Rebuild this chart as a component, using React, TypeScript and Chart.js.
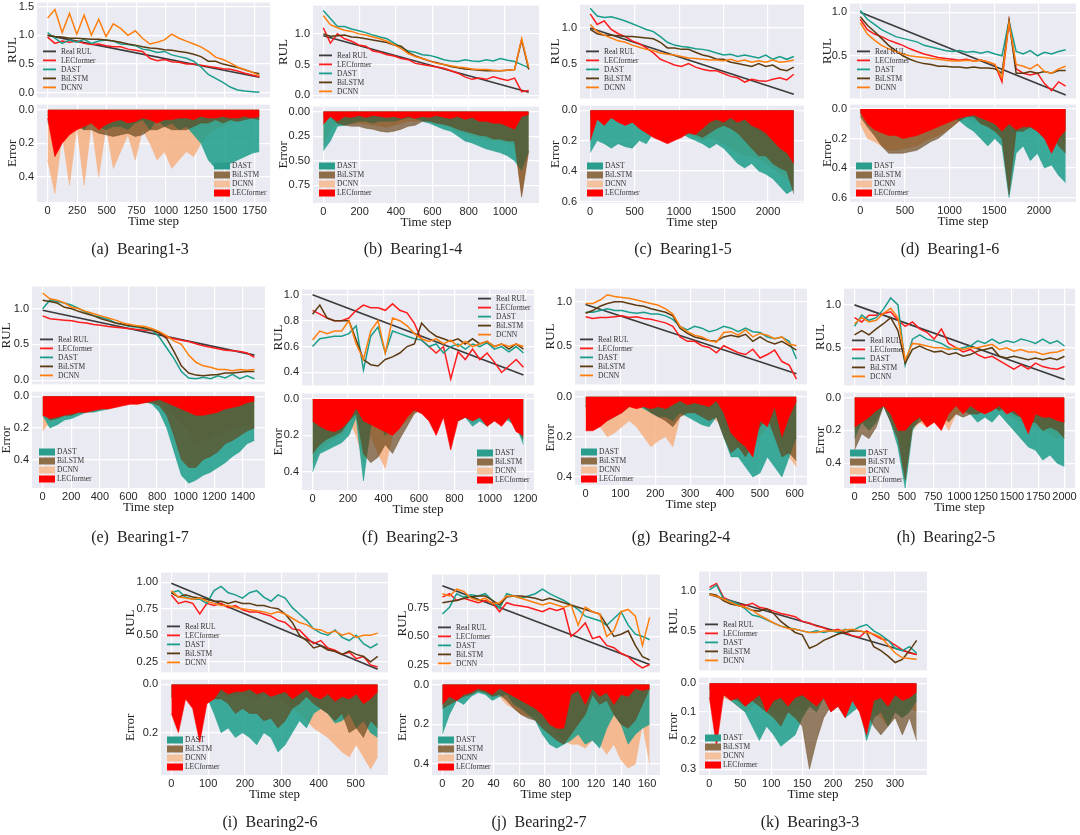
import React, { useEffect, useRef } from "react";
import { Chart, registerables } from "chart.js";

Chart.register(...registerables);

const SANS = "'Liberation Sans', Arial, sans-serif";
const SERIF = "'Liberation Serif', 'Times New Roman', serif";
const TICK_COLOR = "#262626";

// ---- Bearing1-3 ----
const b13Steps = 1790;
const b13XTicks = [0, 250, 500, 750, 1000, 1250, 1500, 1750];
const b13RulTicks = [0, 0.5, 1.0, 1.5];
const b13ErrTicks = [0, 0.2, 0.4];
const b13Real = [1.0, 0.27];
const b13Lec = [0.97, 0.86, 0.9, 0.88, 0.9, 0.86, 0.84, 0.85, 0.82, 0.8, 0.8, 0.76, 0.74, 0.72, 0.6, 0.56, 0.58, 0.54, 0.53, 0.5, 0.5, 0.48, 0.46, 0.44, 0.42, 0.41, 0.38, 0.34, 0.31, 0.28];
const b13Dast = [1.05, 0.95, 0.86, 0.92, 0.88, 0.93, 0.86, 0.9, 0.92, 0.9, 0.85, 0.84, 0.82, 0.76, 0.74, 0.7, 0.72, 0.66, 0.63, 0.6, 0.55, 0.45, 0.32, 0.25, 0.18, 0.1, 0.05, 0.03, 0.02, 0.01];
const b13Bilstm = [1.0, 0.98, 0.97, 0.95, 0.95, 0.94, 0.93, 0.93, 0.92, 0.9, 0.88, 0.85, 0.83, 0.8, 0.78, 0.77, 0.75, 0.74, 0.72, 0.7, 0.67, 0.63, 0.55, 0.55, 0.5, 0.47, 0.44, 0.4, 0.36, 0.33];
const b13Dcnn = [1.3, 1.45, 1.05, 1.38, 1.02, 1.35, 1.0, 1.28, 0.98, 1.2, 1.12, 1.0, 1.08, 0.95, 0.85, 0.88, 0.92, 1.02, 0.95, 0.9, 0.85, 0.8, 0.72, 0.62, 0.58, 0.52, 0.45, 0.4, 0.36, 0.3];
const b13ErrLec = [0.05, 0.28, 0.2, 0.15, 0.12, 0.1, 0.08, 0.12, 0.09, 0.07, 0.06, 0.08, 0.07, 0.05, 0.06, 0.08, 0.06, 0.06, 0.05, 0.05, 0.06, 0.04, 0.05, 0.05, 0.04, 0.05, 0.05, 0.04, 0.05, 0.04];
const b13ErrDast = [0.08, 0.1, 0.1, 0.12, 0.06, 0.12, 0.05, 0.1, 0.12, 0.1, 0.1, 0.12, 0.08, 0.06, 0.12, 0.06, 0.1, 0.08, 0.12, 0.1, 0.15, 0.2, 0.3, 0.35, 0.34, 0.32, 0.3, 0.28, 0.26, 0.25];
const b13ErrBilstm = [0.03, 0.12, 0.1, 0.1, 0.1, 0.12, 0.12, 0.14, 0.15, 0.16, 0.15, 0.14, 0.16, 0.15, 0.12, 0.12, 0.1, 0.12, 0.12, 0.12, 0.1, 0.08, 0.08, 0.06, 0.08, 0.06, 0.07, 0.06, 0.05, 0.06];
const b13ErrDcnn = [0.3, 0.5, 0.15, 0.45, 0.1, 0.45, 0.08, 0.4, 0.1, 0.35, 0.25, 0.15, 0.3, 0.12, 0.2, 0.3, 0.25, 0.35, 0.3, 0.25, 0.28, 0.2, 0.15, 0.12, 0.1, 0.08, 0.06, 0.05, 0.05, 0.04];

// ---- Bearing1-4 ----
const b14Steps = 1130;
const b14XTicks = [0, 200, 400, 600, 800, 1000];
const b14RulTicks = [0, 0.5, 1.0];
const b14ErrTicks = [0, 0.25, 0.5, 0.75];
const b14Real = [0.97, 0.05];
const b14Lec = [1.1, 0.85, 1.0, 0.92, 0.88, 0.82, 0.8, 0.72, 0.7, 0.66, 0.64, 0.6, 0.58, 0.52, 0.5, 0.48, 0.46, 0.44, 0.4, 0.36, 0.3, 0.26, 0.28, 0.26, 0.3, 0.27, 0.24, 0.28, 0.06, 0.08];
const b14Dast = [1.38, 1.25, 1.12, 1.12, 1.08, 1.05, 1.02, 0.98, 0.95, 0.92, 0.85, 0.78, 0.72, 0.7, 0.66, 0.65, 0.62, 0.58, 0.56, 0.55, 0.58, 0.56, 0.55, 0.58, 0.56, 0.6, 0.57, 0.55, 0.5, 0.45];
const b14Bilstm = [1.0, 0.96, 0.97, 0.98, 0.95, 0.94, 0.92, 0.9, 0.88, 0.86, 0.82, 0.8, 0.7, 0.64, 0.6, 0.56, 0.53, 0.5, 0.47, 0.45, 0.43, 0.42, 0.41, 0.4, 0.4, 0.4, 0.41, 0.42, 0.9, 0.42];
const b14Dcnn = [1.3, 1.15, 1.1, 1.06, 1.04, 1.0, 0.98, 0.95, 0.92, 0.88, 0.82, 0.76, 0.68, 0.63, 0.6, 0.56, 0.52, 0.5, 0.48, 0.46, 0.45, 0.43, 0.42, 0.42, 0.41, 0.4, 0.41, 0.42, 0.92, 0.45];
const b14ErrLec = [0.13, 0.05, 0.1, 0.05, 0.06, 0.04, 0.06, 0.04, 0.05, 0.06, 0.05, 0.07, 0.05, 0.07, 0.05, 0.06, 0.04, 0.06, 0.07, 0.05, 0.08, 0.06, 0.1, 0.1, 0.12, 0.12, 0.15, 0.18, 0.05, 0.03];
const b14ErrDast = [0.4, 0.3, 0.15, 0.14, 0.12, 0.1, 0.1, 0.12, 0.1, 0.1, 0.1, 0.08, 0.06, 0.07, 0.1, 0.12, 0.15, 0.18, 0.2, 0.25, 0.3, 0.32, 0.35, 0.38, 0.4, 0.42, 0.45, 0.5, 0.6, 0.4];
const b14ErrBilstm = [0.05, 0.05, 0.12, 0.14, 0.15, 0.15, 0.17, 0.18, 0.2, 0.21, 0.2, 0.18, 0.15, 0.14, 0.1, 0.1, 0.12, 0.13, 0.15, 0.18, 0.2, 0.22, 0.24, 0.25, 0.28, 0.28, 0.3, 0.3, 0.87, 0.4];
const b14ErrDcnn = [0.35, 0.18, 0.13, 0.12, 0.12, 0.12, 0.13, 0.14, 0.15, 0.16, 0.14, 0.12, 0.1, 0.1, 0.08, 0.1, 0.12, 0.14, 0.16, 0.2, 0.22, 0.25, 0.26, 0.28, 0.3, 0.3, 0.32, 0.34, 0.85, 0.4];

// ---- Bearing1-5 ----
const b15Steps = 2290;
const b15XTicks = [0, 500, 1000, 1500, 2000];
const b15RulTicks = [0.5, 1.0];
const b15ErrTicks = [0, 0.2, 0.4, 0.6];
const b15Real = [1.0, 0.07];
const b15Lec = [1.2, 1.05, 1.1, 0.98, 0.92, 0.88, 0.82, 0.78, 0.72, 0.65, 0.56, 0.52, 0.48, 0.46, 0.5, 0.45, 0.42, 0.4, 0.4, 0.36, 0.32, 0.3, 0.24, 0.28, 0.26, 0.25, 0.28, 0.3, 0.27, 0.35];
const b15Dast = [1.28, 1.17, 1.15, 1.16, 1.13, 1.1, 1.06, 1.02, 0.98, 0.95, 0.88, 0.8, 0.76, 0.74, 0.73, 0.71, 0.7, 0.68, 0.65, 0.62, 0.63, 0.6, 0.62, 0.6, 0.58, 0.62, 0.56, 0.6, 0.56, 0.6];
const b15Bilstm = [0.98, 0.92, 0.9, 0.9, 0.89, 0.88, 0.88, 0.87, 0.86, 0.85, 0.8, 0.72, 0.72, 0.7, 0.7, 0.66, 0.62, 0.6, 0.56, 0.56, 0.52, 0.5, 0.48, 0.46, 0.5, 0.46, 0.48, 0.42, 0.4, 0.45];
const b15Dcnn = [1.05, 0.95, 0.9, 0.86, 0.82, 0.8, 0.76, 0.73, 0.7, 0.68, 0.65, 0.63, 0.62, 0.6, 0.58, 0.57, 0.56, 0.55, 0.55, 0.54, 0.56, 0.53, 0.55, 0.52, 0.54, 0.52, 0.55, 0.52, 0.53, 0.55];
const b15ErrLec = [0.2, 0.06, 0.1, 0.05, 0.08, 0.1, 0.08, 0.12, 0.15, 0.18, 0.2, 0.22, 0.2, 0.18, 0.15, 0.16, 0.12, 0.08, 0.06, 0.08, 0.05, 0.08, 0.06, 0.1, 0.12, 0.15, 0.2, 0.25, 0.28, 0.35];
const b15ErrDast = [0.28, 0.2, 0.22, 0.25, 0.22, 0.24, 0.25, 0.2, 0.22, 0.15, 0.12, 0.1, 0.12, 0.15, 0.18, 0.2, 0.22, 0.25, 0.22, 0.25, 0.3, 0.35, 0.38, 0.35, 0.4, 0.42, 0.45, 0.5, 0.55, 0.52];
const b15ErrBilstm = [0.05, 0.05, 0.04, 0.05, 0.06, 0.06, 0.08, 0.1, 0.12, 0.12, 0.1, 0.08, 0.1, 0.12, 0.15, 0.16, 0.18, 0.15, 0.12, 0.1, 0.12, 0.15, 0.2, 0.25, 0.3, 0.3, 0.35, 0.38, 0.4, 0.55];
const b15ErrDcnn = [0.1, 0.05, 0.04, 0.05, 0.06, 0.08, 0.06, 0.06, 0.08, 0.1, 0.12, 0.1, 0.12, 0.14, 0.16, 0.18, 0.2, 0.18, 0.2, 0.22, 0.25, 0.28, 0.3, 0.3, 0.32, 0.35, 0.38, 0.42, 0.45, 0.5];

// ---- Bearing1-6 ----
const b16Steps = 2300;
const b16XTicks = [0, 500, 1000, 1500, 2000];
const b16RulTicks = [0.5, 1.0];
const b16ErrTicks = [0, 0.2, 0.4, 0.6];
const b16Real = [1.0, 0.05];
const b16Lec = [0.92, 0.8, 0.75, 0.72, 0.68, 0.65, 0.62, 0.58, 0.55, 0.52, 0.5, 0.48, 0.47, 0.46, 0.45, 0.46, 0.44, 0.45, 0.43, 0.4, 0.2, 0.9, 0.35, 0.3, 0.28, 0.3, 0.18, 0.1, 0.2, 0.15];
const b16Dast = [1.02, 0.92, 0.86, 0.8, 0.76, 0.72, 0.7, 0.68, 0.66, 0.62, 0.6, 0.58, 0.56, 0.55, 0.56, 0.54, 0.55, 0.53, 0.55, 0.52, 0.5, 0.9, 0.55, 0.52, 0.56, 0.5, 0.54, 0.52, 0.55, 0.57];
const b16Bilstm = [0.95, 0.85, 0.78, 0.7, 0.62, 0.56, 0.5, 0.46, 0.43, 0.41, 0.4, 0.38, 0.38, 0.37, 0.37, 0.36, 0.37, 0.36, 0.36, 0.35, 0.3, 0.9, 0.3, 0.3, 0.32, 0.3, 0.32, 0.3, 0.33, 0.33];
const b16Dcnn = [0.88, 0.75, 0.68, 0.62, 0.58, 0.55, 0.52, 0.5, 0.49, 0.48, 0.47, 0.46, 0.45, 0.44, 0.44, 0.45, 0.44, 0.45, 0.43, 0.4, 0.25, 0.88, 0.4, 0.38, 0.35, 0.4, 0.32, 0.3, 0.35, 0.38];
const b16ErrLec = [0.02, 0.1, 0.14, 0.16, 0.18, 0.18, 0.2, 0.19, 0.18, 0.16, 0.14, 0.12, 0.1, 0.08, 0.06, 0.05, 0.04, 0.06, 0.08, 0.1, 0.15, 0.1, 0.14, 0.12, 0.12, 0.15, 0.2, 0.3, 0.2, 0.14];
const b16ErrDast = [0.03, 0.05, 0.08, 0.1, 0.1, 0.1, 0.1, 0.12, 0.14, 0.12, 0.1, 0.08, 0.06, 0.05, 0.08, 0.12, 0.15, 0.2, 0.25, 0.2, 0.25, 0.6, 0.3, 0.25, 0.35, 0.3, 0.4, 0.38, 0.45, 0.5];
const b16ErrBilstm = [0.05, 0.12, 0.18, 0.25, 0.3, 0.3, 0.3, 0.29, 0.28, 0.25, 0.22, 0.2, 0.16, 0.12, 0.08, 0.05, 0.05, 0.1, 0.12, 0.15, 0.2, 0.58, 0.15, 0.15, 0.12, 0.15, 0.2, 0.15, 0.25, 0.3];
const b16ErrDcnn = [0.1, 0.2, 0.22, 0.25, 0.28, 0.28, 0.27, 0.26, 0.25, 0.22, 0.2, 0.18, 0.15, 0.12, 0.08, 0.06, 0.08, 0.1, 0.12, 0.15, 0.2, 0.55, 0.15, 0.12, 0.15, 0.1, 0.15, 0.2, 0.18, 0.25];

// ---- Bearing1-7 ----
const b17Steps = 1480;
const b17XTicks = [0, 200, 400, 600, 800, 1000, 1200, 1400];
const b17RulTicks = [0, 0.5, 1.0];
const b17ErrTicks = [0, 0.2, 0.4];
const b17Real = [0.98, 0.35];
const b17Lec = [0.9, 0.86, 0.85, 0.84, 0.83, 0.81, 0.8, 0.78, 0.77, 0.75, 0.74, 0.73, 0.72, 0.71, 0.7, 0.69, 0.66, 0.6, 0.58, 0.56, 0.54, 0.51, 0.48, 0.46, 0.44, 0.42, 0.41, 0.4, 0.38, 0.32];
const b17Dast = [1.0, 1.12, 1.1, 1.08, 1.05, 1.0, 0.95, 0.9, 0.88, 0.85, 0.8, 0.78, 0.75, 0.74, 0.72, 0.7, 0.6, 0.45, 0.3, 0.12, 0.03, 0.02, 0.04, 0.02, 0.06, 0.03, 0.08, 0.02, 0.06, 0.02];
const b17Bilstm = [1.12, 1.1, 1.08, 1.02, 1.0, 0.96, 0.93, 0.9, 0.86, 0.83, 0.8, 0.78, 0.76, 0.75, 0.73, 0.7, 0.66, 0.58, 0.4, 0.2, 0.1, 0.07, 0.06, 0.07, 0.08, 0.1, 0.1, 0.11, 0.12, 0.12];
const b17Dcnn = [1.22, 1.14, 1.12, 1.08, 1.02, 1.0, 0.96, 0.93, 0.9, 0.87, 0.84, 0.8, 0.78, 0.76, 0.75, 0.72, 0.68, 0.62, 0.55, 0.5, 0.35, 0.25, 0.2, 0.18, 0.15, 0.15, 0.13, 0.15, 0.14, 0.15];
const b17ErrLec = [0.12, 0.14, 0.13, 0.12, 0.11, 0.1, 0.1, 0.09, 0.08, 0.08, 0.07, 0.06, 0.05, 0.05, 0.04, 0.03, 0.02, 0.04, 0.06, 0.08, 0.1, 0.12, 0.12, 0.11, 0.1, 0.08, 0.07, 0.06, 0.04, 0.03];
const b17ErrDast = [0.12, 0.2, 0.18, 0.15, 0.14, 0.12, 0.1, 0.1, 0.09, 0.08, 0.06, 0.05, 0.04, 0.04, 0.03, 0.05, 0.1, 0.2, 0.35, 0.5, 0.55, 0.53, 0.5, 0.48, 0.45, 0.42, 0.38, 0.35, 0.3, 0.28];
const b17ErrBilstm = [0.1, 0.15, 0.14, 0.12, 0.12, 0.1, 0.1, 0.09, 0.08, 0.07, 0.06, 0.05, 0.04, 0.04, 0.04, 0.04, 0.06, 0.12, 0.25, 0.4, 0.45, 0.45, 0.4, 0.38, 0.35, 0.3, 0.28, 0.25, 0.22, 0.2];
const b17ErrDcnn = [0.22, 0.16, 0.14, 0.13, 0.12, 0.11, 0.1, 0.09, 0.08, 0.07, 0.06, 0.05, 0.04, 0.05, 0.04, 0.03, 0.04, 0.08, 0.12, 0.18, 0.22, 0.3, 0.28, 0.26, 0.24, 0.22, 0.2, 0.2, 0.18, 0.2];

// ---- Bearing2-3 ----
const b23Steps = 1190;
const b23XTicks = [0, 200, 400, 600, 800, 1000, 1200];
const b23RulTicks = [0.4, 0.6, 0.8, 1.0];
const b23ErrTicks = [0, 0.2, 0.4];
const b23Real = [1.0, 0.38];
const b23Lec = [0.88, 0.85, 0.82, 0.8, 0.8, 0.82, 0.88, 0.92, 0.9, 0.9, 0.88, 0.93, 0.88, 0.86, 0.78, 0.65, 0.6, 0.55, 0.6, 0.35, 0.56, 0.5, 0.58, 0.5, 0.55, 0.48, 0.4, 0.45, 0.5, 0.44];
const b23Dast = [0.6, 0.66, 0.67, 0.68, 0.68, 0.7, 0.76, 0.42, 0.68, 0.75, 0.55, 0.72, 0.7, 0.68, 0.66, 0.65, 0.6, 0.62, 0.55, 0.6, 0.62, 0.58, 0.62, 0.6, 0.63, 0.58, 0.6, 0.56, 0.6, 0.55];
const b23Bilstm = [0.85, 0.92, 0.82, 0.8, 0.8, 0.8, 0.65, 0.5, 0.46, 0.45, 0.5, 0.52, 0.55, 0.6, 0.62, 0.78, 0.72, 0.68, 0.66, 0.64, 0.66, 0.62, 0.66, 0.62, 0.64, 0.6, 0.62, 0.58, 0.62, 0.58];
const b23Dcnn = [0.65, 0.72, 0.7, 0.72, 0.72, 0.8, 0.62, 0.5, 0.72, 0.8, 0.55, 0.82, 0.8, 0.76, 0.7, 0.66, 0.64, 0.66, 0.62, 0.65, 0.6, 0.64, 0.6, 0.62, 0.64, 0.6, 0.62, 0.6, 0.62, 0.6];
const b23ErrLec = [0.12, 0.15, 0.17, 0.18, 0.16, 0.12, 0.05, 0.12, 0.14, 0.16, 0.18, 0.2, 0.16, 0.1, 0.06, 0.08, 0.12, 0.2, 0.1, 0.28, 0.12, 0.1, 0.12, 0.1, 0.15, 0.12, 0.15, 0.1, 0.18, 0.2];
const b23ErrDast = [0.4, 0.3, 0.28, 0.26, 0.24, 0.2, 0.1, 0.45, 0.15, 0.12, 0.2, 0.15, 0.12, 0.08, 0.06, 0.08, 0.08, 0.12, 0.08, 0.1, 0.12, 0.1, 0.15, 0.12, 0.15, 0.12, 0.1, 0.12, 0.15, 0.25];
const b23ErrBilstm = [0.3, 0.25, 0.22, 0.2, 0.18, 0.12, 0.08, 0.3, 0.35, 0.32, 0.25, 0.3, 0.22, 0.15, 0.08, 0.05, 0.08, 0.1, 0.08, 0.1, 0.12, 0.1, 0.12, 0.1, 0.12, 0.1, 0.12, 0.1, 0.15, 0.22];
const b23ErrDcnn = [0.35, 0.28, 0.25, 0.22, 0.2, 0.12, 0.2, 0.35, 0.2, 0.3, 0.38, 0.2, 0.15, 0.12, 0.08, 0.06, 0.06, 0.1, 0.08, 0.08, 0.1, 0.1, 0.12, 0.1, 0.12, 0.1, 0.12, 0.1, 0.15, 0.22];

// ---- Bearing2-4 ----
const b24Steps = 605;
const b24XTicks = [0, 100, 200, 300, 400, 500, 600];
const b24RulTicks = [0.5, 1.0];
const b24ErrTicks = [0, 0.2, 0.4];
const b24Real = [0.97, 0.18];
const b24Lec = [0.83, 0.81, 0.82, 0.82, 0.83, 0.84, 0.82, 0.83, 0.81, 0.8, 0.78, 0.76, 0.72, 0.6, 0.55, 0.55, 0.5, 0.48, 0.42, 0.5, 0.46, 0.42, 0.4, 0.46, 0.36, 0.4, 0.45, 0.32, 0.28, 0.12];
const b24Dast = [0.88, 0.88, 0.9, 0.92, 0.9, 0.9, 0.88, 0.87, 0.88, 0.86, 0.86, 0.84, 0.8, 0.72, 0.68, 0.72, 0.7, 0.66, 0.68, 0.72, 0.7, 0.66, 0.7, 0.66, 0.65, 0.6, 0.58, 0.6, 0.55, 0.35];
const b24Bilstm = [0.87, 0.9, 0.95, 0.98, 1.0, 1.0, 0.98, 0.96, 0.95, 0.92, 0.9, 0.88, 0.84, 0.7, 0.64, 0.6, 0.58, 0.56, 0.55, 0.6, 0.62, 0.6, 0.63, 0.55, 0.6, 0.55, 0.52, 0.55, 0.5, 0.45];
const b24Dcnn = [0.98, 0.98, 1.02, 1.08, 1.06, 1.05, 1.04, 1.02, 1.0, 0.98, 0.96, 0.92, 0.86, 0.72, 0.66, 0.62, 0.6, 0.56, 0.54, 0.65, 0.66, 0.62, 0.68, 0.6, 0.64, 0.62, 0.58, 0.6, 0.52, 0.5];
const b24ErrLec = [0.17, 0.17, 0.15, 0.12, 0.1, 0.08, 0.05, 0.06, 0.05, 0.06, 0.05, 0.06, 0.04, 0.02, 0.04, 0.03, 0.04, 0.05, 0.02, 0.08, 0.18, 0.22, 0.25, 0.3, 0.12, 0.15, 0.05, 0.2, 0.1, 0.02];
const b24ErrDast = [0.05, 0.08, 0.1, 0.12, 0.1, 0.08, 0.05, 0.04, 0.06, 0.08, 0.1, 0.1, 0.12, 0.08, 0.1, 0.12, 0.14, 0.15, 0.1, 0.2, 0.3, 0.3, 0.35, 0.4, 0.38, 0.3, 0.35, 0.4, 0.3, 0.2];
const b24ErrBilstm = [0.05, 0.06, 0.1, 0.1, 0.08, 0.05, 0.02, 0.04, 0.05, 0.08, 0.1, 0.12, 0.15, 0.1, 0.08, 0.08, 0.1, 0.12, 0.1, 0.2, 0.28, 0.25, 0.3, 0.22, 0.15, 0.1, 0.2, 0.3, 0.28, 0.32];
const b24ErrDcnn = [0.1, 0.12, 0.15, 0.2, 0.18, 0.15, 0.12, 0.15, 0.2, 0.25, 0.22, 0.2, 0.25, 0.1, 0.08, 0.08, 0.08, 0.1, 0.12, 0.15, 0.2, 0.25, 0.3, 0.25, 0.2, 0.15, 0.18, 0.25, 0.3, 0.35];

// ---- Bearing2-5 ----
const b25Steps = 2000;
const b25XTicks = [0, 250, 500, 750, 1000, 1250, 1500, 1750, 2000];
const b25RulTicks = [0.5, 1.0];
const b25ErrTicks = [0, 0.2, 0.4];
const b25Real = [1.0, 0.13];
const b25Lec = [0.85, 0.8, 0.88, 0.88, 0.9, 0.92, 0.82, 0.75, 0.8, 0.72, 0.68, 0.6, 0.72, 0.55, 0.5, 0.45, 0.48, 0.42, 0.38, 0.4, 0.35, 0.3, 0.25, 0.3, 0.25, 0.32, 0.28, 0.26, 0.25, 0.28];
const b25Dast = [0.75, 0.88, 0.82, 0.85, 0.95, 1.08, 1.0, 0.3, 0.6, 0.65, 0.6, 0.58, 0.55, 0.5, 0.48, 0.5, 0.52, 0.58, 0.55, 0.6, 0.55, 0.58, 0.56, 0.6, 0.58, 0.55, 0.6, 0.55, 0.58, 0.52];
const b25Bilstm = [0.65, 0.7, 0.65, 0.72, 0.78, 0.85, 0.7, 0.32, 0.48, 0.52, 0.48, 0.45, 0.46, 0.42, 0.44, 0.4, 0.42, 0.46, 0.48, 0.5, 0.4, 0.38, 0.4, 0.38, 0.36, 0.38, 0.36, 0.38, 0.36, 0.4];
const b25Dcnn = [0.78, 0.85, 0.8, 0.82, 0.9, 0.96, 0.85, 0.36, 0.55, 0.54, 0.52, 0.5, 0.5, 0.48, 0.5, 0.48, 0.5, 0.5, 0.52, 0.54, 0.48, 0.5, 0.46, 0.48, 0.45, 0.45, 0.42, 0.44, 0.45, 0.48];
const b25ErrLec = [0.18, 0.15, 0.12, 0.08, 0.05, 0.1, 0.2, 0.2, 0.15, 0.12, 0.18, 0.15, 0.2, 0.1, 0.05, 0.1, 0.05, 0.08, 0.1, 0.08, 0.05, 0.1, 0.08, 0.12, 0.22, 0.1, 0.12, 0.12, 0.14, 0.15];
const b25ErrDast = [0.25, 0.15, 0.2, 0.15, 0.05, 0.15, 0.3, 0.55, 0.2, 0.12, 0.1, 0.1, 0.08, 0.1, 0.05, 0.08, 0.1, 0.15, 0.12, 0.15, 0.1, 0.15, 0.2, 0.25, 0.3, 0.32, 0.38, 0.35, 0.4, 0.42];
const b25ErrBilstm = [0.32, 0.22, 0.25, 0.18, 0.05, 0.15, 0.25, 0.5, 0.18, 0.15, 0.12, 0.12, 0.1, 0.15, 0.1, 0.12, 0.1, 0.1, 0.08, 0.05, 0.08, 0.05, 0.1, 0.12, 0.15, 0.15, 0.2, 0.18, 0.2, 0.25];
const b25ErrDcnn = [0.2, 0.15, 0.15, 0.12, 0.05, 0.1, 0.2, 0.45, 0.2, 0.15, 0.18, 0.15, 0.12, 0.2, 0.1, 0.08, 0.1, 0.08, 0.08, 0.05, 0.08, 0.1, 0.12, 0.15, 0.15, 0.18, 0.2, 0.22, 0.25, 0.22];

// ---- Bearing2-6 ----
const b26Steps = 560;
const b26XTicks = [0, 100, 200, 300, 400, 500];
const b26RulTicks = [0.25, 0.5, 0.75, 1.0];
const b26ErrTicks = [0, 0.2];
const b26Real = [0.99, 0.18];
const b26Lec = [0.88, 0.8, 0.82, 0.8, 0.7, 0.8, 0.78, 0.8, 0.76, 0.78, 0.74, 0.72, 0.72, 0.7, 0.68, 0.64, 0.62, 0.56, 0.55, 0.48, 0.42, 0.45, 0.38, 0.36, 0.32, 0.34, 0.28, 0.3, 0.22, 0.2];
const b26Dast = [0.9, 0.92, 0.86, 0.84, 0.84, 0.8, 0.92, 0.96, 0.9, 0.88, 0.85, 0.9, 0.92, 0.86, 0.82, 0.88, 0.85, 0.76, 0.7, 0.64, 0.56, 0.52, 0.5, 0.55, 0.48, 0.45, 0.5, 0.42, 0.38, 0.42];
const b26Bilstm = [0.9, 0.86, 0.88, 0.86, 0.85, 0.84, 0.82, 0.82, 0.8, 0.82, 0.8, 0.8, 0.78, 0.78, 0.76, 0.75, 0.7, 0.62, 0.5, 0.45, 0.38, 0.4, 0.36, 0.35, 0.32, 0.35, 0.32, 0.3, 0.25, 0.3];
const b26Dcnn = [0.92, 0.86, 0.85, 0.84, 0.85, 0.82, 0.8, 0.78, 0.78, 0.76, 0.75, 0.74, 0.73, 0.72, 0.7, 0.72, 0.7, 0.66, 0.62, 0.6, 0.56, 0.55, 0.52, 0.54, 0.5, 0.52, 0.48, 0.5, 0.5, 0.52];
const b26ErrLec = [0.12, 0.2, 0.06, 0.1, 0.24, 0.08, 0.06, 0.02, 0.04, 0.03, 0.03, 0.02, 0.04, 0.03, 0.05, 0.04, 0.03, 0.06, 0.04, 0.02, 0.05, 0.06, 0.04, 0.07, 0.05, 0.06, 0.04, 0.08, 0.06, 0.03];
const b26ErrDast = [0.05, 0.08, 0.05, 0.06, 0.05, 0.05, 0.12, 0.2, 0.18, 0.22, 0.2, 0.22, 0.25, 0.2, 0.22, 0.28, 0.25, 0.2, 0.15, 0.18, 0.12, 0.1, 0.12, 0.16, 0.15, 0.12, 0.18, 0.15, 0.2, 0.22];
const b26ErrBilstm = [0.05, 0.05, 0.06, 0.05, 0.04, 0.05, 0.06, 0.06, 0.08, 0.12, 0.1, 0.12, 0.12, 0.15, 0.14, 0.18, 0.15, 0.1, 0.08, 0.05, 0.08, 0.1, 0.12, 0.15, 0.12, 0.2, 0.18, 0.22, 0.15, 0.18];
const b26ErrDcnn = [0.06, 0.08, 0.05, 0.06, 0.05, 0.04, 0.05, 0.04, 0.05, 0.05, 0.04, 0.05, 0.06, 0.04, 0.05, 0.06, 0.08, 0.1, 0.12, 0.15, 0.18, 0.2, 0.22, 0.25, 0.28, 0.3, 0.25, 0.3, 0.35, 0.3];

// ---- Bearing2-7 ----
const b27Steps = 162;
const b27XTicks = [0, 20, 40, 60, 80, 100, 120, 140, 160];
const b27RulTicks = [0.25, 0.5, 0.75];
const b27ErrTicks = [0, 0.2, 0.4];
const b27Real = [0.95, 0.25];
const b27Lec = [0.85, 0.88, 0.82, 0.84, 0.82, 0.8, 0.82, 0.8, 0.72, 0.8, 0.78, 0.77, 0.76, 0.74, 0.72, 0.75, 0.73, 0.75, 0.5, 0.55, 0.62, 0.48, 0.5, 0.42, 0.4, 0.35, 0.32, 0.26, 0.22, 0.25];
const b27Dast = [0.7, 0.76, 0.88, 0.85, 0.87, 0.86, 0.88, 0.82, 0.75, 0.88, 0.86, 0.84, 0.86, 0.88, 0.92, 0.88, 0.85, 0.82, 0.78, 0.74, 0.68, 0.66, 0.64, 0.6, 0.66, 0.72, 0.6, 0.52, 0.5, 0.47];
const b27Bilstm = [0.8, 0.81, 0.82, 0.84, 0.85, 0.86, 0.86, 0.82, 0.78, 0.85, 0.86, 0.86, 0.85, 0.84, 0.82, 0.84, 0.82, 0.8, 0.78, 0.76, 0.74, 0.72, 0.7, 0.6, 0.5, 0.52, 0.55, 0.42, 0.32, 0.29];
const b27Dcnn = [0.88, 0.86, 0.92, 0.9, 0.84, 0.82, 0.84, 0.79, 0.8, 0.86, 0.86, 0.84, 0.82, 0.8, 0.78, 0.8, 0.78, 0.76, 0.78, 0.6, 0.76, 0.72, 0.7, 0.5, 0.55, 0.72, 0.74, 0.68, 0.42, 0.67];
const b27ErrLec = [0.1, 0.06, 0.08, 0.05, 0.04, 0.02, 0.03, 0.05, 0.02, 0.04, 0.06, 0.08, 0.1, 0.12, 0.15, 0.2, 0.22, 0.22, 0.05, 0.03, 0.1, 0.02, 0.06, 0.04, 0.1, 0.05, 0.06, 0.02, 0.03, 0.02];
const b27ErrDast = [0.25, 0.15, 0.08, 0.1, 0.06, 0.04, 0.05, 0.08, 0.06, 0.05, 0.1, 0.12, 0.15, 0.18, 0.25, 0.3, 0.32, 0.3, 0.28, 0.25, 0.3, 0.28, 0.32, 0.22, 0.15, 0.2, 0.3, 0.25, 0.22, 0.2];
const b27ErrBilstm = [0.12, 0.1, 0.08, 0.06, 0.05, 0.03, 0.04, 0.06, 0.05, 0.08, 0.12, 0.15, 0.17, 0.18, 0.22, 0.25, 0.28, 0.3, 0.25, 0.2, 0.15, 0.05, 0.1, 0.08, 0.15, 0.2, 0.22, 0.18, 0.1, 0.02];
const b27ErrDcnn = [0.08, 0.05, 0.04, 0.05, 0.03, 0.03, 0.04, 0.05, 0.06, 0.1, 0.12, 0.15, 0.16, 0.15, 0.2, 0.2, 0.25, 0.28, 0.3, 0.3, 0.32, 0.28, 0.3, 0.35, 0.3, 0.38, 0.42, 0.4, 0.2, 0.4];

// ---- Bearing3-3 ----
const b33Steps = 335;
const b33XTicks = [0, 50, 100, 150, 200, 250, 300];
const b33RulTicks = [0.5, 1.0];
const b33ErrTicks = [0, 0.1, 0.2, 0.3];
const b33Real = [0.96, 0.2];
const b33Lec = [1.05, 1.1, 0.92, 0.88, 0.84, 0.82, 0.85, 0.8, 0.78, 0.75, 0.72, 0.7, 0.68, 0.62, 0.6, 0.56, 0.54, 0.5, 0.52, 0.48, 0.44, 0.42, 0.5, 0.45, 0.4, 0.38, 0.32, 0.26, 0.22, 0.2];
const b33Dast = [1.02, 1.08, 0.9, 0.88, 0.84, 0.78, 0.7, 0.68, 0.64, 0.6, 0.56, 0.54, 0.52, 0.5, 0.48, 0.5, 0.48, 0.5, 0.48, 0.52, 0.5, 0.55, 0.58, 0.5, 0.45, 0.38, 0.28, 0.25, 0.3, 0.22];
const b33Bilstm = [0.97, 0.95, 0.88, 0.84, 0.82, 0.8, 0.76, 0.75, 0.78, 0.72, 0.62, 0.55, 0.48, 0.45, 0.28, 0.32, 0.38, 0.42, 0.46, 0.48, 0.5, 0.5, 0.48, 0.3, 0.25, 0.18, 0.1, 0.14, 0.25, 0.38];
const b33Dcnn = [0.96, 0.94, 0.9, 0.86, 0.82, 0.8, 0.76, 0.7, 0.65, 0.6, 0.56, 0.53, 0.52, 0.5, 0.48, 0.48, 0.5, 0.5, 0.5, 0.51, 0.52, 0.5, 0.48, 0.46, 0.42, 0.32, 0.22, 0.16, 0.15, 0.14];
const b33ErrLec = [0.05, 0.22, 0.04, 0.06, 0.05, 0.08, 0.06, 0.04, 0.1, 0.06, 0.05, 0.08, 0.05, 0.04, 0.06, 0.08, 0.05, 0.1, 0.08, 0.12, 0.06, 0.1, 0.18, 0.06, 0.05, 0.08, 0.04, 0.06, 0.05, 0.03];
const b33ErrDast = [0.05, 0.1, 0.04, 0.06, 0.08, 0.1, 0.15, 0.2, 0.15, 0.18, 0.22, 0.2, 0.18, 0.12, 0.08, 0.1, 0.05, 0.1, 0.08, 0.12, 0.1, 0.08, 0.2, 0.12, 0.1, 0.15, 0.1, 0.12, 0.1, 0.06];
const b33ErrBilstm = [0.02, 0.02, 0.04, 0.05, 0.06, 0.08, 0.06, 0.08, 0.1, 0.12, 0.15, 0.1, 0.12, 0.15, 0.3, 0.2, 0.12, 0.08, 0.06, 0.08, 0.06, 0.05, 0.1, 0.15, 0.18, 0.15, 0.12, 0.18, 0.12, 0.2];
const b33ErrDcnn = [0.02, 0.04, 0.05, 0.06, 0.08, 0.1, 0.08, 0.06, 0.08, 0.1, 0.12, 0.1, 0.08, 0.1, 0.08, 0.06, 0.05, 0.08, 0.06, 0.05, 0.06, 0.05, 0.08, 0.1, 0.12, 0.15, 0.1, 0.12, 0.08, 0.1];

const LINE = { real: "#3b3b3b", lec: "#ff1c1c", dast: "#1a9e8b", bilstm: "#5c3b10", dcnn: "#ff7f0e" };
const FILL = { dast: "rgba(28,158,138,0.85)", bilstm: "rgba(100,66,22,0.66)", dcnn: "rgba(246,176,128,0.85)", lec: "#ff0000" };
const SWATCH = { dast: "#2a9d8c", bilstm: "#8d6e48", dcnn: "#f4c19c", lec: "#ff0000" };

type Corner = "bl" | "br" | "tr";
type Leg = { corner: Corner; dx: number; dy: number };
type Box = { L: number; R: number; tTop: number; tBot: number; eTop: number; eBot: number; off: number; capX: number; capY: number };
type Panel = {
  caption: string;
  steps: number;
  xTicks: number[];
  rulTicks: number[];
  rulRange: [number, number];
  rulDec: number;
  errTicks: number[];
  errRange: [number, number];
  errDec: number;
  real: number[];
  lec: number[];
  dast: number[];
  bilstm: number[];
  dcnn: number[];
  eLec: number[];
  eDast: number[];
  eBilstm: number[];
  eDcnn: number[];
  box: Box;
  rulLeg: Leg;
  errLeg: Leg;
};

const PANELS: Panel[] = [
  {
    caption: "(a)\u00a0\u00a0Bearing1-3", steps: b13Steps, xTicks: b13XTicks,
    rulTicks: b13RulTicks, rulRange: [-0.08, 1.57], rulDec: 1, errTicks: b13ErrTicks, errRange: [-0.03, 0.55], errDec: 1,
    real: b13Real, lec: b13Lec, dast: b13Dast, bilstm: b13Bilstm, dcnn: b13Dcnn,
    eLec: b13ErrLec, eDast: b13ErrDast, eBilstm: b13ErrBilstm, eDcnn: b13ErrDcnn,
    box: { L: 37, R: 270, tTop: 1, tBot: 99, eTop: 103, eBot: 202, off: 25, capX: 140, capY: 249 },
    rulLeg: { corner: "bl", dx: 6, dy: 10 }, errLeg: { corner: "br", dx: 56, dy: 9 },
  },
  {
    caption: "(b)\u00a0\u00a0Bearing1-4", steps: b14Steps, xTicks: b14XTicks,
    rulTicks: b14RulTicks, rulRange: [-0.05, 1.46], rulDec: 1, errTicks: b14ErrTicks, errRange: [-0.05, 0.93], errDec: 2,
    real: b14Real, lec: b14Lec, dast: b14Dast, bilstm: b14Bilstm, dcnn: b14Dcnn,
    eLec: b14ErrLec, eDast: b14ErrDast, eBilstm: b14ErrBilstm, eDcnn: b14ErrDcnn,
    box: { L: 313, R: 539, tTop: 4, tBot: 100, eTop: 105, eBot: 203, off: 30, capX: 413, capY: 249 },
    rulLeg: { corner: "bl", dx: 6, dy: 7 }, errLeg: { corner: "bl", dx: 6, dy: 10 },
  },
  {
    caption: "(c)\u00a0\u00a0Bearing1-5", steps: b15Steps, xTicks: b15XTicks,
    rulTicks: b15RulTicks, rulRange: [0.01, 1.33], rulDec: 1, errTicks: b15ErrTicks, errRange: [-0.03, 0.61], errDec: 1,
    real: b15Real, lec: b15Lec, dast: b15Dast, bilstm: b15Bilstm, dcnn: b15Dcnn,
    eLec: b15ErrLec, eDast: b15ErrDast, eBilstm: b15ErrBilstm, eDcnn: b15ErrDcnn,
    box: { L: 580, R: 804, tTop: 3, tBot: 100, eTop: 104, eBot: 203, off: 25, capX: 683, capY: 249 },
    rulLeg: { corner: "bl", dx: 6, dy: 11 }, errLeg: { corner: "bl", dx: 7, dy: 10 },
  },
  {
    caption: "(d)\u00a0\u00a0Bearing1-6", steps: b16Steps, xTicks: b16XTicks,
    rulTicks: b16RulTicks, rulRange: [0.01, 1.1], rulDec: 1, errTicks: b16ErrTicks, errRange: [-0.03, 0.63], errDec: 1,
    real: b16Real, lec: b16Lec, dast: b16Dast, bilstm: b16Bilstm, dcnn: b16Dcnn,
    eLec: b16ErrLec, eDast: b16ErrDast, eBilstm: b16ErrBilstm, eDcnn: b16ErrDcnn,
    box: { L: 850, R: 1076, tTop: 2, tBot: 100, eTop: 103, eBot: 202, off: 23, capX: 950, capY: 249 },
    rulLeg: { corner: "bl", dx: 7, dy: 11 }, errLeg: { corner: "bl", dx: 6, dy: 9 },
  },
  {
    caption: "(e)\u00a0\u00a0Bearing1-7", steps: b17Steps, xTicks: b17XTicks,
    rulTicks: b17RulTicks, rulRange: [-0.06, 1.31], rulDec: 1, errTicks: b17ErrTicks, errRange: [-0.03, 0.58], errDec: 1,
    real: b17Real, lec: b17Lec, dast: b17Dast, bilstm: b17Bilstm, dcnn: b17Dcnn,
    eLec: b17ErrLec, eDast: b17ErrDast, eBilstm: b17ErrBilstm, eDcnn: b17ErrDcnn,
    box: { L: 32, R: 265, tTop: 285, tBot: 386, eTop: 390, eBot: 488, off: 26, capX: 140, capY: 537 },
    rulLeg: { corner: "bl", dx: 8, dy: 9 }, errLeg: { corner: "bl", dx: 7, dy: 9 },
  },
  {
    caption: "(f)\u00a0\u00a0Bearing2-3", steps: b23Steps, xTicks: b23XTicks,
    rulTicks: b23RulTicks, rulRange: [0.3, 1.04], rulDec: 1, errTicks: b23ErrTicks, errRange: [-0.03, 0.5], errDec: 1,
    real: b23Real, lec: b23Lec, dast: b23Dast, bilstm: b23Bilstm, dcnn: b23Dcnn,
    eLec: b23ErrLec, eDast: b23ErrDast, eBilstm: b23ErrBilstm, eDcnn: b23ErrDcnn,
    box: { L: 302, R: 534, tTop: 288, tBot: 387, eTop: 392, eBot: 490, off: 24, capX: 410, capY: 537 },
    rulLeg: { corner: "tr", dx: 56, dy: 9 }, errLeg: { corner: "br", dx: 57, dy: 10 },
  },
  {
    caption: "(g)\u00a0\u00a0Bearing2-4", steps: b24Steps, xTicks: b24XTicks,
    rulTicks: b24RulTicks, rulRange: [0.06, 1.15], rulDec: 1, errTicks: b24ErrTicks, errRange: [-0.03, 0.44], errDec: 1,
    real: b24Real, lec: b24Lec, dast: b24Dast, bilstm: b24Bilstm, dcnn: b24Dcnn,
    eLec: b24ErrLec, eDast: b24ErrDast, eBilstm: b24ErrBilstm, eDcnn: b24ErrDcnn,
    box: { L: 575, R: 807, tTop: 287, tBot: 386, eTop: 389, eBot: 485, off: 25, capX: 681, capY: 537 },
    rulLeg: { corner: "bl", dx: 5, dy: 9 }, errLeg: { corner: "bl", dx: 6, dy: 6 },
  },
  {
    caption: "(h)\u00a0\u00a0Bearing2-5", steps: b25Steps, xTicks: b25XTicks,
    rulTicks: b25RulTicks, rulRange: [0.06, 1.19], rulDec: 1, errTicks: b25ErrTicks, errRange: [-0.03, 0.55], errDec: 1,
    real: b25Real, lec: b25Lec, dast: b25Dast, bilstm: b25Bilstm, dcnn: b25Dcnn,
    eLec: b25ErrLec, eDast: b25ErrDast, eBilstm: b25ErrBilstm, eDcnn: b25ErrDcnn,
    box: { L: 844, R: 1075, tTop: 287, tBot: 387, eTop: 391, eBot: 488, off: 24, capX: 946, capY: 537 },
    rulLeg: { corner: "bl", dx: 8, dy: 9 }, errLeg: { corner: "bl", dx: 6, dy: 8 },
  },
  {
    caption: "(i)\u00a0\u00a0Bearing2-6", steps: b26Steps, xTicks: b26XTicks,
    rulTicks: b26RulTicks, rulRange: [0.15, 1.09], rulDec: 2, errTicks: b26ErrTicks, errRange: [-0.02, 0.375], errDec: 1,
    real: b26Real, lec: b26Lec, dast: b26Dast, bilstm: b26Bilstm, dcnn: b26Dcnn,
    eLec: b26ErrLec, eDast: b26ErrDast, eBilstm: b26ErrBilstm, eDcnn: b26ErrDcnn,
    box: { L: 161, R: 388, tTop: 571, tBot: 674, eTop: 678, eBot: 775, off: 31, capX: 270, capY: 822 },
    rulLeg: { corner: "bl", dx: 6, dy: 10 }, errLeg: { corner: "bl", dx: 6, dy: 8 },
  },
  {
    caption: "(j)\u00a0\u00a0Bearing2-7", steps: b27Steps, xTicks: b27XTicks,
    rulTicks: b27RulTicks, rulRange: [0.18, 1.05], rulDec: 2, errTicks: b27ErrTicks, errRange: [-0.025, 0.455], errDec: 1,
    real: b27Real, lec: b27Lec, dast: b27Dast, bilstm: b27Bilstm, dcnn: b27Dcnn,
    eLec: b27ErrLec, eDast: b27ErrDast, eBilstm: b27ErrBilstm, eDcnn: b27ErrDcnn,
    box: { L: 432, R: 660, tTop: 573, tBot: 674, eTop: 678, eBot: 775, off: 30, capX: 539, capY: 822 },
    rulLeg: { corner: "bl", dx: 6, dy: 9 }, errLeg: { corner: "bl", dx: 6, dy: 8 },
  },
  {
    caption: "(k)\u00a0\u00a0Bearing3-3", steps: b33Steps, xTicks: b33XTicks,
    rulTicks: b33RulTicks, rulRange: [0.0, 1.25], rulDec: 1, errTicks: b33ErrTicks, errRange: [-0.02, 0.32], errDec: 1,
    real: b33Real, lec: b33Lec, dast: b33Dast, bilstm: b33Bilstm, dcnn: b33Dcnn,
    eLec: b33ErrLec, eDast: b33ErrDast, eBilstm: b33ErrBilstm, eDcnn: b33ErrDcnn,
    box: { L: 699, R: 927, tTop: 570, tBot: 672, eTop: 676, eBot: 775, off: 26, capX: 810, capY: 822 },
    rulLeg: { corner: "bl", dx: 6, dy: 10 }, errLeg: { corner: "bl", dx: 6, dy: 10 },
  },
];

// gray seaborn-like plot area
const panelBg = {
  id: "panelBg",
  beforeDraw(chart: Chart) {
    const { ctx, chartArea: a } = chart;
    ctx.save();
    ctx.fillStyle = "#eaeaf2";
    ctx.fillRect(a.left, a.top, a.right - a.left, a.bottom - a.top);
    ctx.restore();
  },
};

// legend drawn inside the plot area, like matplotlib's loc="lower left"
const insideLegend = {
  id: "insideLegend",
  afterDraw(chart: Chart, _args: unknown, opts: any) {
    if (!opts || !opts.items) return;
    const { ctx, chartArea: a } = chart;
    const n = opts.items.length;
    const rowH = 9;
    ctx.save();
    ctx.font = `7.5px ${SERIF}`;
    ctx.textBaseline = "middle";
    opts.items.forEach((it: { label: string; color: string }, i: number) => {
      const y = opts.corner === "tr" ? a.top + opts.dy + i * rowH : a.bottom - opts.dy - (n - 1 - i) * rowH;
      const x = opts.corner === "bl" ? a.left + opts.dx : a.right - opts.dx;
      if (opts.kind === "line") {
        ctx.strokeStyle = it.color;
        ctx.lineWidth = 1.8;
        ctx.beginPath();
        ctx.moveTo(x, y);
        ctx.lineTo(x + 13, y);
        ctx.stroke();
      } else {
        ctx.fillStyle = it.color;
        ctx.fillRect(x, y - 3.5, 16, 7);
      }
      ctx.fillStyle = "#333";
      ctx.fillText(it.label, x + 18, y + 0.5);
    });
    ctx.restore();
  },
};

Chart.register(panelBg, insideLegend);

const pts = (vals: number[], steps: number) => vals.map((y, i) => ({ x: (i * steps) / (vals.length - 1), y }));

function xScale(p: Panel, labels: boolean) {
  return {
    type: "linear" as const,
    min: -0.05 * p.steps,
    max: 1.05 * p.steps,
    afterBuildTicks: (s: any) => {
      s.ticks = p.xTicks.map((v) => ({ value: v }));
    },
    afterFit: (s: any) => {
      s.height = labels ? 27 : 0;
    },
    grid: { color: "#ffffff", lineWidth: 1.2, drawTicks: false },
    border: { display: false },
    ticks: {
      display: labels,
      autoSkip: false,
      maxRotation: 0,
      minRotation: 0,
      padding: 2,
      color: TICK_COLOR,
      font: { family: SANS, size: 11 },
      callback: (v: any) => String(v),
    },
    title: { display: labels, text: "Time step", color: "#222", padding: 0, font: { family: SERIF, size: 13 } },
  };
}

function yScale(ticks: number[], range: [number, number], dec: number, title: string, reverse: boolean, width: number) {
  return {
    type: "linear" as const,
    min: range[0],
    max: range[1],
    reverse,
    afterBuildTicks: (s: any) => {
      s.ticks = ticks.map((v) => ({ value: v }));
    },
    afterFit: (s: any) => {
      s.width = width;
    },
    grid: { color: "#ffffff", lineWidth: 1.2, drawTicks: false },
    border: { display: false },
    ticks: { padding: 3, color: TICK_COLOR, font: { family: SANS, size: 11 }, callback: (v: any) => Number(v).toFixed(dec) },
    title: { display: true, text: title, color: "#222", padding: 0, font: { family: SERIF, size: 13 } },
  };
}

function Subplot({ p }: { p: Panel }) {
  const topRef = useRef<HTMLCanvasElement | null>(null);
  const botRef = useRef<HTMLCanvasElement | null>(null);
  const b = p.box;
  const W = b.off + 7;
  const topW = W + (b.R - b.L);
  const topH = b.tBot - b.tTop + 16;
  const botW = W + (b.R - b.L) + 22;
  const botH = b.eBot - b.eTop + 8 + 27;

  useEffect(() => {
    if (!topRef.current || !botRef.current) return;
    const line = (label: string, data: number[], color: string, order: number, width = 1.5) => ({
      label,
      data: pts(data, p.steps),
      borderColor: color,
      backgroundColor: color,
      borderWidth: width,
      pointRadius: 0,
      tension: 0,
      fill: false,
      order,
    });
    const area = (label: string, data: number[], color: string, order: number) => ({
      label,
      data: pts(data, p.steps),
      borderColor: color,
      backgroundColor: color,
      borderWidth: 0.6,
      pointRadius: 0,
      tension: 0,
      fill: "origin",
      order,
    });

    const top = new Chart(topRef.current, {
      type: "line",
      data: {
        datasets: [
          line("Real RUL", p.real, LINE.real, 4, 1.6),
          line("LECformer", p.lec, LINE.lec, 3),
          line("DAST", p.dast, LINE.dast, 2),
          line("BiLSTM", p.bilstm, LINE.bilstm, 1),
          line("DCNN", p.dcnn, LINE.dcnn, 0),
        ],
      },
      options: {
        responsive: false,
        animation: false,
        events: [],
        parsing: false,
        layout: { padding: { top: 8, bottom: 8, left: 0, right: 0 } },
        scales: {
          x: xScale(p, false),
          y: yScale(p.rulTicks, p.rulRange, p.rulDec, "RUL", false, W),
        },
        plugins: {
          legend: { display: false },
          tooltip: { enabled: false },
          insideLegend: {
            kind: "line",
            ...p.rulLeg,
            items: [
              { label: "Real RUL", color: LINE.real },
              { label: "LECformer", color: LINE.lec },
              { label: "DAST", color: LINE.dast },
              { label: "BiLSTM", color: LINE.bilstm },
              { label: "DCNN", color: LINE.dcnn },
            ],
          },
        } as any,
      },
    });

    // draw order bottom -> top: DCNN, DAST, BiLSTM, LECformer
    const bot = new Chart(botRef.current, {
      type: "line",
      data: {
        datasets: [
          area("LECformer", p.eLec, FILL.lec, 0),
          area("BiLSTM", p.eBilstm, FILL.bilstm, 1),
          area("DAST", p.eDast, FILL.dast, 2),
          area("DCNN", p.eDcnn, FILL.dcnn, 3),
        ] as any,
      },
      options: {
        responsive: false,
        animation: false,
        events: [],
        parsing: false,
        layout: { padding: { top: 8, bottom: 0, left: 0, right: 22 } },
        scales: {
          x: xScale(p, true),
          y: yScale(p.errTicks, p.errRange, p.errDec, "Error", true, W),
        },
        plugins: {
          legend: { display: false },
          tooltip: { enabled: false },
          insideLegend: {
            kind: "box",
            ...p.errLeg,
            items: [
              { label: "DAST", color: SWATCH.dast },
              { label: "BiLSTM", color: SWATCH.bilstm },
              { label: "DCNN", color: SWATCH.dcnn },
              { label: "LECformer", color: SWATCH.lec },
            ],
          },
        } as any,
      },
    });

    return () => {
      top.destroy();
      bot.destroy();
    };
  }, [p, W]);

  return (
    <>
      <canvas
        ref={topRef}
        width={topW}
        height={topH}
        style={{ position: "absolute", left: b.L - W, top: b.tTop - 8, width: topW, height: topH }}
      />
      <canvas
        ref={botRef}
        width={botW}
        height={botH}
        style={{ position: "absolute", left: b.L - W, top: b.eTop - 8, width: botW, height: botH }}
      />
      <div
        style={{
          position: "absolute",
          left: b.capX,
          top: b.capY,
          transform: "translate(-50%, -50%)",
          fontFamily: SERIF,
          fontSize: 16,
          color: "#222",
          whiteSpace: "pre",
        }}
      >
        {p.caption}
      </div>
    </>
  );
}

export default function App() {
  return (
    <div
      style={{
        position: "absolute",
        left: 0,
        top: 0,
        width: 1080,
        height: 835,
        overflow: "hidden",
        background: "#ffffff",
      }}
    >
      {PANELS.map((p) => (
        <Subplot key={p.caption} p={p} />
      ))}
    </div>
  );
}
